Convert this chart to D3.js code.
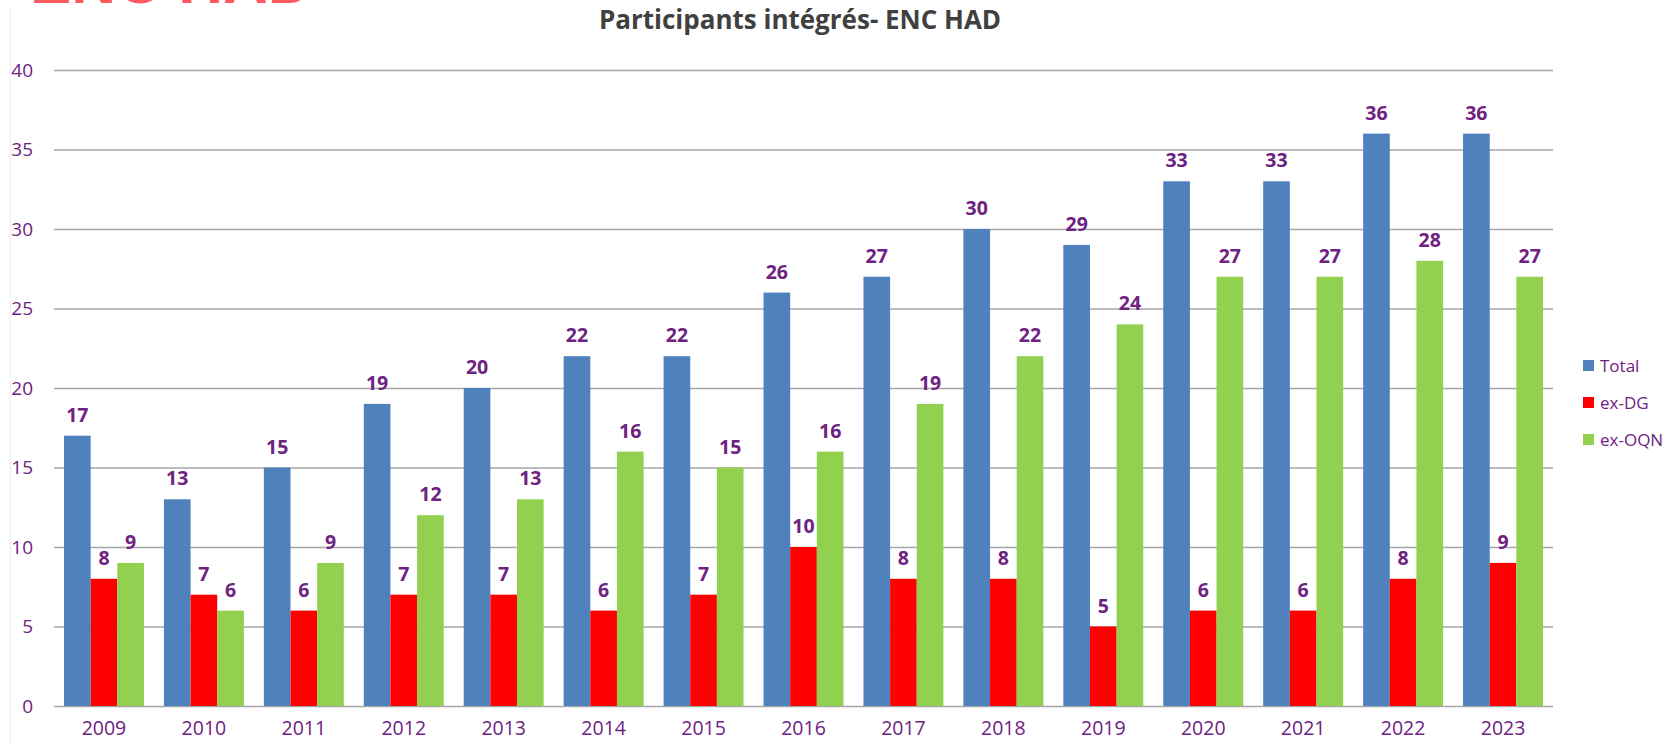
<!DOCTYPE html>
<html>
<head>
<meta charset="utf-8">
<script src="https://cdn.jsdelivr.net/npm/d3@7"></script>
<style>
  html, body { margin: 0; padding: 0; background: #fff; }
  svg { display: block; }
</style>
</head>
<body>
<div id="chart"></div>
<script>
const W = 1674
const H = 745

const years = ['2009', '2010', '2011', '2012', '2013', '2014', '2015', '2016', '2017', '2018', '2019', '2020', '2021', '2022', '2023']
const seriesNames = ['Total', 'ex-DG', 'ex-OQN']
const totalValues = [17, 13, 15, 19, 20, 22, 22, 26, 27, 30, 29, 33, 33, 36, 36]
const exDgValues = [8, 7, 6, 7, 7, 6, 7, 10, 8, 8, 5, 6, 6, 8, 9]
const exOqnValues = [9, 6, 9, 12, 13, 16, 15, 16, 19, 22, 24, 27, 27, 28, 27]
const yTicks = [0, 5, 10, 15, 20, 25, 30, 35, 40]

const colors = ['#4f81bd', '#ff0000', '#92d050']
const PURPLE = '#6e2281'

const margin = { left: 54, right: 1674 - 1553, top: 70, bottom: 745 - 706 }

const svg = d3.select('#chart')
  .append('svg')
  .attr('width', W)
  .attr('height', H)

// bout de titre coupé en haut de la slide
svg.append('text')
  .attr('x', 30)
  .attr('y', 3)
  .attr('font-family', 'Liberation Sans, Arial, sans-serif')
  .attr('font-weight', 'bold')
  .attr('font-size', 62)
  .attr('fill', '#ff5a5f')
  .text('ENC HAD')

// cadre du graphique (bord gauche visible)
svg.append('line')
  .attr('x1', 10.5).attr('x2', 10.5)
  .attr('y1', 7).attr('y2', H)
  .attr('stroke', '#ececec')
  .attr('stroke-width', 1)

svg.append('text')
  .attr('x', 800)
  .attr('y', 29)
  .attr('text-anchor', 'middle')
  .attr('font-family', 'Open Sans, sans-serif')
  .attr('font-weight', 'bold')
  .attr('font-size', 26)
  .attr('fill', '#404040')
  .text('Participants intégrés- ENC HAD')

const x = d3.scaleBand()
  .domain(years)
  .range([margin.left, W - margin.right])
  .paddingInner(0)
  .paddingOuter(0)

const xInner = d3.scaleBand()
  .domain(seriesNames)
  .range([0, x.bandwidth()])
  .paddingInner(0)
  .paddingOuter(0.375)

const y = d3.scaleLinear()
  .domain([0, 40])
  .range([H - margin.bottom, margin.top])

const yAxis = svg.append('g')
  .attr('transform', `translate(${margin.left},0)`)
  .call(d3.axisLeft(y).tickValues(yTicks).tickSize(-(W - margin.left - margin.right)).tickPadding(21))
yAxis.select('.domain').remove()
yAxis.selectAll('.tick line')
  .attr('stroke', '#a6a6a6')
  .attr('stroke-width', 1.5)
yAxis.selectAll('.tick text')
  .attr('font-family', 'Open Sans, sans-serif')
  .attr('font-size', 19)
  .attr('fill', PURPLE)

const xAxis = svg.append('g')
  .attr('transform', `translate(0,${H - margin.bottom})`)
  .call(d3.axisBottom(x).tickSize(0).tickPadding(15))
xAxis.select('.domain').remove()
xAxis.selectAll('.tick text')
  .attr('font-family', 'Open Sans, sans-serif')
  .attr('font-size', 19.5)
  .attr('fill', PURPLE)

const rows = years.map((yr, i) => ({
  year: yr,
  values: [totalValues[i], exDgValues[i], exOqnValues[i]]
}))

const groups = svg.append('g')
  .selectAll('g')
  .data(rows)
  .join('g')
  .attr('transform', d => `translate(${x(d.year)},0)`)

groups.selectAll('rect')
  .data(d => d.values.map((v, k) => ({ name: seriesNames[k], value: v, k })))
  .join('rect')
  .attr('x', d => xInner(d.name))
  .attr('width', xInner.bandwidth())
  .attr('y', d => y(d.value))
  .attr('height', d => y(0) - y(d.value))
  .attr('fill', d => colors[d.k])

groups.selectAll('text.val')
  .data(d => d.values.map((v, k) => ({ name: seriesNames[k], value: v, k })))
  .join('text')
  .classed('val', true)
  .attr('x', d => xInner(d.name) + xInner.bandwidth() / 2)
  .attr('y', d => y(d.value) - 14)
  .attr('text-anchor', 'middle')
  .attr('font-family', 'Open Sans, sans-serif')
  .attr('font-weight', 'bold')
  .attr('font-size', 19.5)
  .attr('fill', PURPLE)
  .text(d => d.value)

const legend = svg.append('g')
  .attr('transform', 'translate(1583,366)')
const items = legend.selectAll('g')
  .data(seriesNames)
  .join('g')
  .attr('transform', (d, i) => `translate(0,${i * 37})`)
items.append('rect')
  .attr('x', 0)
  .attr('y', -6)
  .attr('width', 11)
  .attr('height', 11)
  .attr('fill', (d, i) => colors[i])
items.append('text')
  .attr('x', 17)
  .attr('y', 0)
  .attr('dy', '0.35em')
  .attr('font-family', 'Open Sans, sans-serif')
  .attr('font-size', 17)
  .attr('fill', PURPLE)
  .text(d => d)
</script>
</body>
</html>
